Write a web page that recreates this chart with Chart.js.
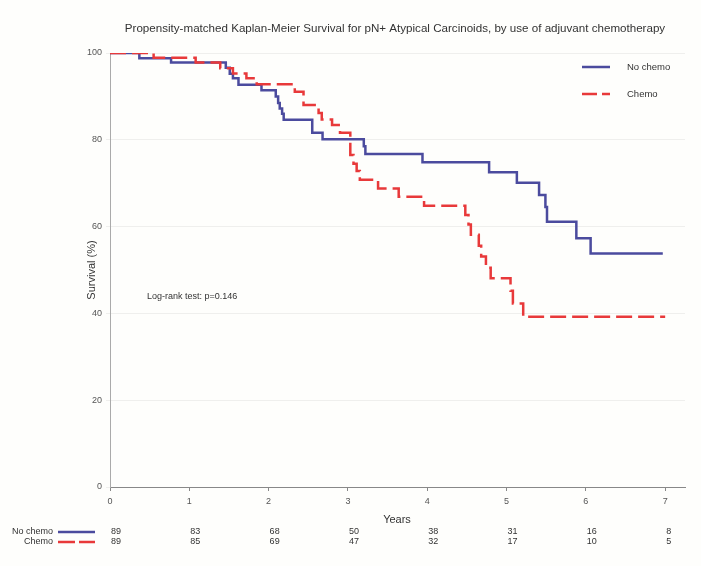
<!DOCTYPE html>
<html>
<head>
<meta charset="utf-8">
<script src="https://cdn.jsdelivr.net/npm/chart.js@4.4.1/dist/chart.umd.min.js"></script>
<style>
html,body{margin:0;padding:0;background:#fefefc}
#wrap{width:701px;height:566px;position:relative}
</style>
</head>
<body>
<div id="wrap"><canvas id="kmChart"></canvas></div>
<script>
// Kaplan-Meier steps: time (years) and survival (%) after each step
const noChemoT=[0,0.37,0.77,1.46,1.51,1.55,1.62,1.91,2.09,2.12,2.14,2.17,2.19,2.55,2.68,3.20,3.22,3.94,4.78,5.13,5.41,5.49,5.51,5.88,6.06,6.97];
const noChemoS=[100,98.8,97.8,96.6,95.2,94.2,92.7,91.4,90.0,88.5,87.2,86.0,84.6,81.6,80.1,78.5,76.7,74.8,72.5,70.1,67.3,64.5,61.1,57.3,53.8,53.8];
const chemoT=[0,0.55,1.08,1.39,1.55,1.72,1.85,2.33,2.44,2.63,2.67,2.80,2.90,3.03,3.07,3.11,3.15,3.38,3.64,3.96,4.48,4.52,4.55,4.65,4.68,4.74,4.80,5.05,5.08,5.21,7.00];
const chemoS=[100,98.9,97.8,96.5,95.3,94.2,92.8,91.1,88.0,86.2,84.7,83.4,81.6,76.5,74.5,72.8,70.8,68.8,66.9,64.8,62.7,60.5,58.1,55.6,53.1,50.5,48.1,45.2,42.3,39.2,39.2];

const years=[0,1,2,3,4,5,6,7];
const atRiskNoChemo=[89,83,68,50,38,31,16,8];
const atRiskChemo=[89,85,69,47,32,17,10,5];

const BLUE="#4b4b9e";
const RED="#e8393a";
const FONT="'Liberation Sans', Arial, sans-serif";

function pts(t,s){return t.map((v,i)=>({x:v,y:s[i]}));}

// extra text: title, axis titles, legend, risk table
const extras={
 id:"extras",
 afterDraw(chart){
  const ctx=chart.ctx, xs=chart.scales.x;
  ctx.save();
  ctx.fillStyle="#333";
  ctx.textBaseline="middle";

  ctx.font="11.6px "+FONT;
  ctx.textAlign="center";
  ctx.fillText("Propensity-matched Kaplan-Meier Survival for pN+ Atypical Carcinoids, by use of adjuvant chemotherapy",395,29);
  ctx.font="11px "+FONT;
  ctx.fillText("Years",397,520);

  ctx.save();
  ctx.translate(92,270);
  ctx.rotate(-Math.PI/2);
  ctx.fillText("Survival (%)",0,0);
  ctx.restore();

  ctx.font="9px "+FONT;
  ctx.textAlign="left";
  ctx.fillText("Log-rank test: p=0.146",147,297);

  // legend
  ctx.lineWidth=2.5;
  ctx.strokeStyle=BLUE;
  ctx.beginPath();ctx.moveTo(582,67);ctx.lineTo(610,67);ctx.stroke();
  ctx.strokeStyle=RED;
  ctx.setLineDash([15,5]);
  ctx.beginPath();ctx.moveTo(582,94);ctx.lineTo(610,94);ctx.stroke();
  ctx.setLineDash([]);
  ctx.font="9.5px "+FONT;
  ctx.fillText("No chemo",627,67);
  ctx.fillText("Chemo",627,94);

  // numbers at risk
  ctx.font="9px "+FONT;
  ctx.textAlign="right";
  ctx.fillText("No chemo",53,532);
  ctx.fillText("Chemo",53,542);
  ctx.strokeStyle=BLUE;
  ctx.beginPath();ctx.moveTo(58,532);ctx.lineTo(95,532);ctx.stroke();
  ctx.strokeStyle=RED;
  ctx.setLineDash([17,4]);
  ctx.beginPath();ctx.moveTo(58,542);ctx.lineTo(95,542);ctx.stroke();
  ctx.setLineDash([]);
  ctx.textAlign="left";
  years.forEach((y,i)=>{
   const px=xs.getPixelForValue(y);
   ctx.fillText(String(atRiskNoChemo[i]),px+1,532);
   ctx.fillText(String(atRiskChemo[i]),px+1,542);
  });
  ctx.restore();
 }
};

new Chart(document.getElementById("kmChart"),{
 type:"line",
 data:{datasets:[
  {label:"Chemo",data:pts(chemoT,chemoS),borderColor:RED,borderWidth:2.5,borderDash:[16,6],stepped:true,pointRadius:0,fill:false,order:0},
  {label:"No chemo",data:pts(noChemoT,noChemoS),borderColor:BLUE,borderWidth:2.5,stepped:true,pointRadius:0,fill:false,order:1}
 ]},
 options:{
  responsive:true,maintainAspectRatio:false,animation:false,
  layout:{padding:{left:0,top:53,right:16,bottom:0}},
  plugins:{legend:{display:false},tooltip:{enabled:false},title:{display:false}},
  scales:{
   x:{type:"linear",min:0,max:7.25,
      afterFit(s){s.height=79;},
      afterBuildTicks(s){s.ticks=years.map(v=>({value:v}));},
      grid:{drawOnChartArea:false,tickLength:4,color:"#888"},
      border:{color:"#888"},
      ticks:{font:{size:9,family:FONT},color:"#555",padding:5,maxRotation:0}},
   y:{min:0,max:100,
      afterFit(s){s.width=110;},
      grid:{color:"rgba(0,0,0,0.06)",tickLength:4},
      border:{color:"#aaa"},
      ticks:{stepSize:20,font:{size:9,family:FONT},color:"#555",padding:4}}
  }
 },
 plugins:[extras]
});
</script>
</body>
</html>
